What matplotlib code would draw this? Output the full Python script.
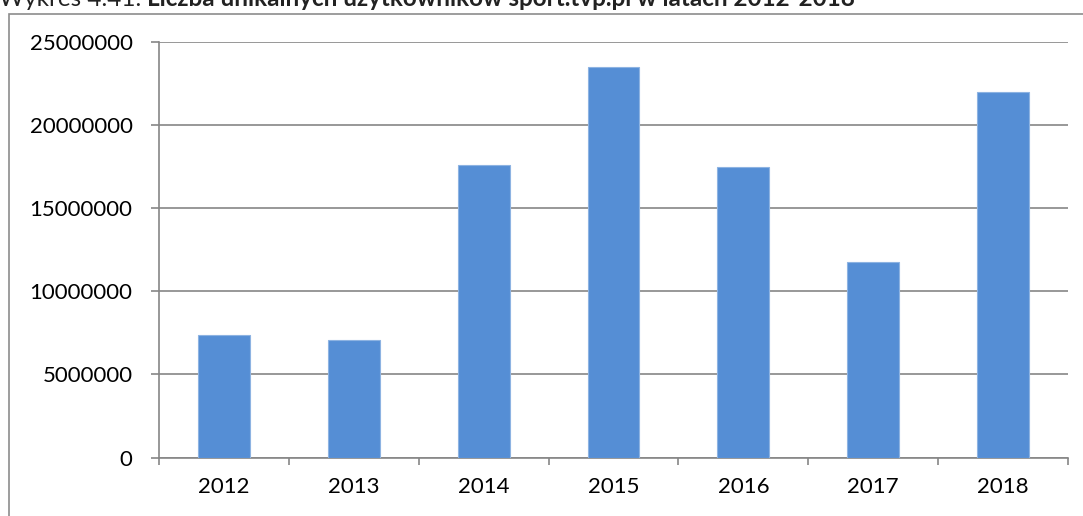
import matplotlib
matplotlib.use("Agg")
from matplotlib import pyplot as plt
from matplotlib.patches import Rectangle
from matplotlib.ticker import FixedLocator, NullFormatter

## yearly unique users of sport.tvp.pl
years = ["2012", "2013", "2014", "2015", "2016", "2017", "2018"]
users = [7370000, 7070000, 17590000, 23490000, 17470000, 11760000, 21980000]
y_ticks = [0, 5000000, 10000000, 15000000, 20000000, 25000000]

plt.rcParams['font.family'] = ['Lato', 'DejaVu Sans']

W, H = 1083, 516
fig = plt.figure(figsize=(W / 100, H / 100), dpi=100)

# outer chart frame (runs past the right and bottom edges)
frame = Rectangle((9 / W, -0.1), 1.2, 1 - 14 / H + 0.1, transform=fig.transFigure,
                  fill=False, edgecolor='#8c8c8c', linewidth=1.2, clip_on=False)
fig.patches.append(frame)

# caption: plain prefix, bold remainder placed right after it
head = fig.text(-1 / W, 1 - 6 / H, "Wykres 4.41.", fontsize=17.5, color='#222222',
                ha='left', va='baseline')
renderer = fig.canvas.get_renderer()
head_box = head.get_window_extent(renderer)
fig.text((head_box.x1 + 6) / W, 1 - 6 / H,
         "Liczba unikalnych użytkowników sport.tvp.pl w latach 2012-2018",
         fontsize=17.5, fontweight='bold', color='#222222', ha='left', va='baseline')

ax = fig.add_axes([159 / W, 58.5 / H, (1068 - 159) / W, (474.1 - 58.5) / H])
x = list(range(len(years)))
ax.bar(x, users, width=0.4, color='#558ED5', edgecolor='#8DB3E2', linewidth=0.8, zorder=3)

ax.set_xlim(-0.5, len(years) - 0.5)
ax.set_ylim(0, 25000000)
ax.set_yticks(y_ticks)
ax.set_yticklabels([str(v) for v in y_ticks])
ax.set_xticks(x)
ax.set_xticklabels(years)
ax.xaxis.set_minor_locator(FixedLocator([i - 0.5 for i in range(len(years) + 1)]))
ax.xaxis.set_minor_formatter(NullFormatter())

grey = '#868686'
ax.grid(axis='y', color=grey, linewidth=1.2, zorder=0)
for side in ['top', 'right']:
    ax.spines[side].set_visible(False)
for side in ['left', 'bottom']:
    ax.spines[side].set_color(grey)
    ax.spines[side].set_linewidth(1.2)

ax.tick_params(axis='y', length=6, width=1.2, color=grey, pad=13, labelsize=16)
ax.tick_params(axis='x', which='major', length=0, pad=14, labelsize=16)
ax.tick_params(axis='x', which='minor', length=5, width=1.2, color=grey)

plt.savefig("out.png", dpi=100)
